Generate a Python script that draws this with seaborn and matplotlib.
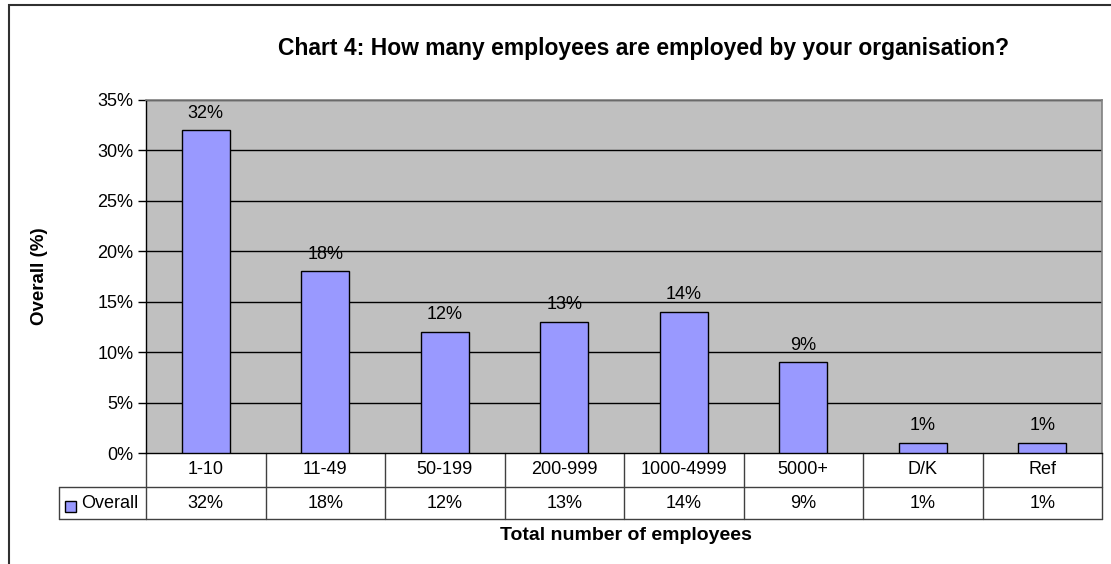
import matplotlib
matplotlib.use("Agg")
import matplotlib.pyplot as plt
import matplotlib.patches as mpatches
import seaborn as sns
import pandas as pd

categories = ["1-10", "11-49", "50-199", "200-999", "1000-4999", "5000+", "D/K", "Ref"]
overall = [32, 18, 12, 13, 14, 9, 1, 1]
y_ticks = [0, 5, 10, 15, 20, 25, 30, 35]
series_name = "Overall"

sns.set_style("white")
plt.rcParams["font.family"] = ["Liberation Sans", "DejaVu Sans"]
plt.rcParams["text.color"] = "black"
plt.rcParams["axes.labelcolor"] = "black"
plt.rcParams["ytick.color"] = "black"
plt.rcParams["xtick.color"] = "black"

W, H = 1111, 564
fig = plt.figure(figsize=(W / 100, H / 100), dpi=100)

# plot area in pixel coordinates (from reference)
px_l, px_r, px_t, px_b = 146, 1102, 100, 453
ax = fig.add_axes([px_l / W, 1 - px_b / H, (px_r - px_l) / W, (px_b - px_t) / H])
ax.set_facecolor("#C0C0C0")

df = pd.DataFrame({"cat": categories, "val": overall})
sns.barplot(data=df, x="cat", y="val", color="#9999FF", edgecolor="black",
            linewidth=1, width=0.4, saturation=1, ax=ax, zorder=3)

fs = 13
ax.set_ylim(0, 35)
ax.set_xlim(-0.5, len(categories) - 0.5)
ax.set_yticks(y_ticks)
ax.set_yticklabels([f"{t}%" for t in y_ticks], fontsize=fs)
ax.set_xticks([])
ax.set_xlabel("")
ax.set_ylabel("")
ax.tick_params(axis="y", direction="out", length=6, width=1, color="black", pad=3,
               left=True, labelcolor="black")
for t in y_ticks[1:]:
    ax.axhline(t, color="black", linewidth=1, zorder=1)

for s in ["top", "right"]:
    ax.spines[s].set_color("#808080")
    ax.spines[s].set_linewidth(1.2)
for s in ["left", "bottom"]:
    ax.spines[s].set_color("black")
    ax.spines[s].set_linewidth(1)

# value labels above bars
for i, v in enumerate(overall):
    ax.annotate(f"{v}%", (i, v), xytext=(0, 9), textcoords="offset points",
                ha="center", va="baseline", fontsize=fs, color="black")

# data table below the plot
ax_h = px_b - px_t
r1 = -(487 - px_b) / ax_h
r2 = -(519 - px_b) / ax_h
trans = ax.get_xaxis_transform()
n = len(categories)
lw = 1
line_kw = dict(color="#404040", linewidth=lw, clip_on=False, transform=trans)
ax.plot([-0.5, n - 0.5], [r1, r1], **line_kw)
ax.plot([-0.5, n - 0.5], [r2, r2], **line_kw)
for k in range(n + 1):
    ax.plot([k - 0.5, k - 0.5], [0, r2], **line_kw)
for i, (c, v) in enumerate(zip(categories, overall)):
    ax.text(i, r1 / 2, c, transform=trans, ha="center", va="center", fontsize=fs)
    ax.text(i, (r1 + r2) / 2, f"{v}%", transform=trans, ha="center", va="center", fontsize=fs)

# legend cell on the left of the table
fig.add_artist(plt.Line2D([59 / W, px_l / W], [1 - 487 / H, 1 - 487 / H], color="#404040", lw=lw))
fig.add_artist(plt.Line2D([59 / W, px_l / W], [1 - 519 / H, 1 - 519 / H], color="#404040", lw=lw))
fig.add_artist(plt.Line2D([59 / W, 59 / W], [1 - 487 / H, 1 - 519 / H], color="#404040", lw=lw))
fig.add_artist(mpatches.Rectangle((65 / W, 1 - 512 / H), 11 / W, 11 / H, facecolor="#9999FF",
                                  edgecolor="black", linewidth=1, transform=fig.transFigure))
fig.text(81 / W, 1 - 503 / H, series_name, ha="left", va="center", fontsize=fs)

# titles
fig.text(644 / W, 1 - 48 / H, "Chart 4: How many employees are employed by your organisation?",
         ha="center", va="center", fontsize=16.5, fontweight="bold")
fig.text(40 / W, 1 - 276 / H, "Overall (%)", ha="center", va="center", rotation=90,
         fontsize=13.5, fontweight="bold")
fig.text(626 / W, 1 - 535 / H, "Total number of employees", ha="center", va="center",
         fontsize=14, fontweight="bold")

# outer chart border
fig.add_artist(mpatches.Rectangle((9 / W, -0.05), 1.2, 1 - 5 / H + 0.05, fill=False,
                                  edgecolor="#303030", linewidth=1.5, transform=fig.transFigure))

fig.savefig("out.png", dpi=100)
